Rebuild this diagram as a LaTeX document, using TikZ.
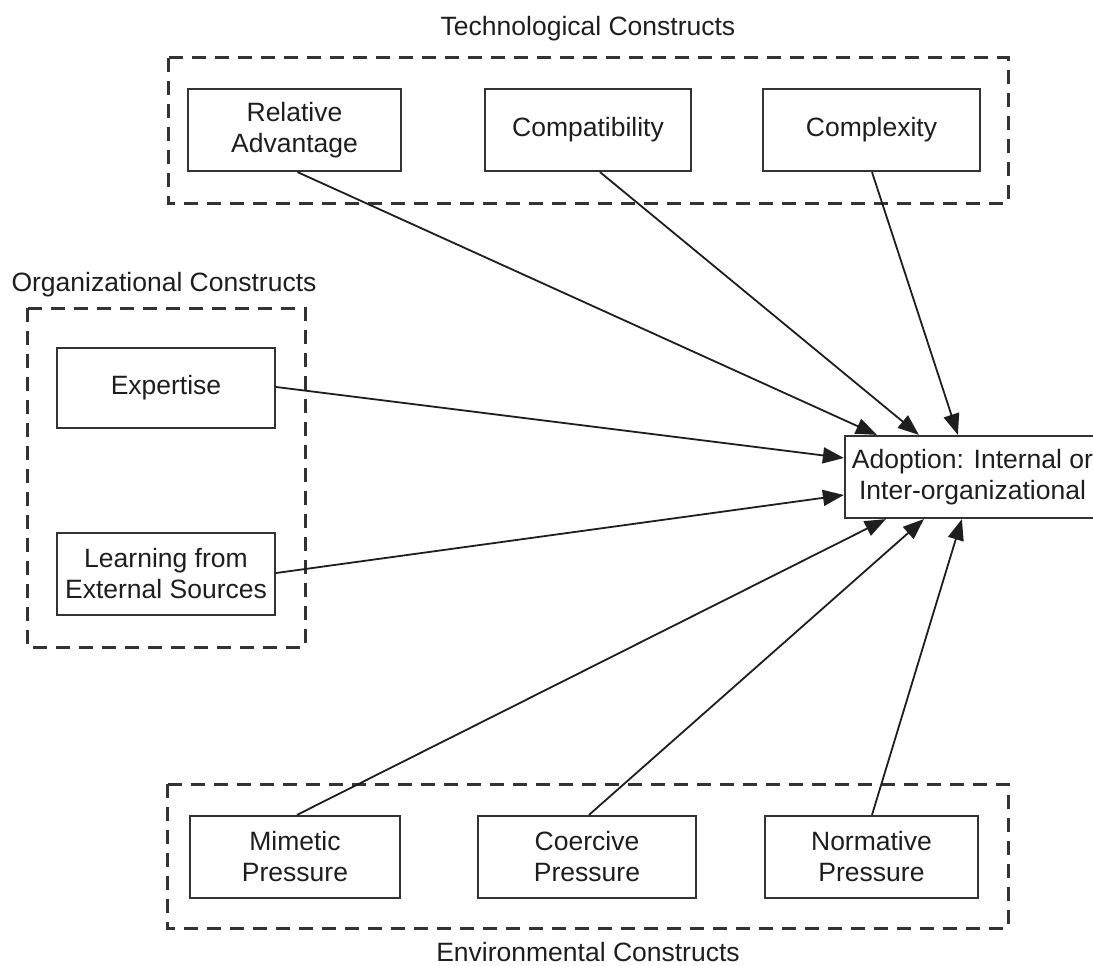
\documentclass[tikz,border=0pt]{standalone}
\usepackage{fontspec}
\setmainfont{Liberation Sans}
\usetikzlibrary{arrows.meta,calc}
\definecolor{ink}{HTML}{1E1E1E}
\definecolor{frame}{HTML}{333333}
\tikzset{
  construct/.style={draw=frame, line width=2.2pt, fill=white, align=center,
    text=ink, inner sep=0pt, font=\fontsize{26.5}{31}\selectfont},
  group/.style={draw=frame, line width=3pt, dash pattern=on 14pt off 9pt},
  grouptitle/.style={text=ink, inner sep=0pt, font=\fontsize{26.5}{31}\selectfont},
  link/.style={draw=ink, line width=1.8pt,
    -{Triangle[length=21pt,width=16pt]}},
}
\begin{document}
\begin{tikzpicture}[x=1pt,y=-1pt]
\useasboundingbox (0,0) rectangle (1093,966);

% dashed group frames
\draw[group] (168,58) rectangle (1008,203);
\draw[group] (27,308) rectangle (305,647);
\draw[group] (167,784) rectangle (1008,928);

% group titles
\node[grouptitle] (ttech) at (588,29) {Technological Constructs};
\node[grouptitle] (torg) at (164,285) {Organizational Constructs};
\node[grouptitle] (tenv) at (588,952) {Environmental Constructs};

% technological constructs
\node[construct, minimum width=213pt, minimum height=82pt] (ra) at (294.5,130) {Relative\\Advantage};
\node[construct, minimum width=206pt, minimum height=82pt] (compat) at (588,130) {Compatibility};
\node[construct, minimum width=217pt, minimum height=82pt] (complex) at (871.5,130) {Complexity};

% organizational constructs
\node[construct, minimum width=218pt, minimum height=80pt] (expert) at (166,388) {Expertise};
\node[construct, minimum width=218pt, minimum height=82pt] (learn) at (166,574) {Learning from\\External Sources};

% environmental constructs
\node[construct, minimum width=210pt, minimum height=82pt] (mimetic) at (295,857) {Mimetic\\Pressure};
\node[construct, minimum width=218pt, minimum height=82pt] (coercive) at (587,857) {Coercive\\Pressure};
\node[construct, minimum width=213pt, minimum height=82pt] (normative) at (871.5,857) {Normative\\Pressure};

% outcome
\node[construct, minimum width=255pt, minimum height=82pt] (adopt) at (972.5,477) {Adoption: Internal or\\Inter-organizational};

% influences on adoption
\draw[link] ($(ra.south)+(3,0)$) -- ($(adopt.north west)+(33,0)$);
\draw[link] ($(compat.south)+(12,0)$) -- ($(adopt.north west)+(75,0)$);
\draw[link] ($(complex.south)+(0.5,0)$) -- ($(adopt.north west)+(114,0)$);
\draw[link] ($(expert.east)+(0,-1)$) -- ($(adopt.west)+(0,-19)$);
\draw[link] ($(learn.east)+(0,-1)$) -- ($(adopt.west)+(0,18)$);
\draw[link] ($(mimetic.north)+(2,0)$) -- ($(adopt.south west)+(42,0)$);
\draw[link] ($(coercive.north)+(2,0)$) -- ($(adopt.south west)+(80,0)$);
\draw[link] ($(normative.north)+(0.5,0)$) -- ($(adopt.south west)+(118,0)$);
\end{tikzpicture}
\end{document}
